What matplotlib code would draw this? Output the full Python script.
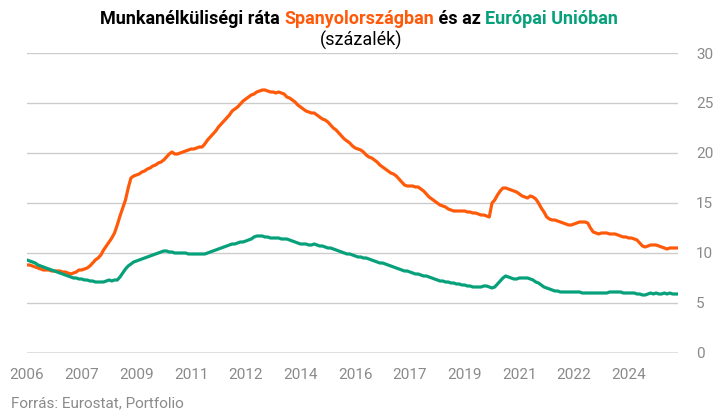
import numpy as np
import matplotlib
matplotlib.use("Agg")
import matplotlib.pyplot as plt

# havi adatok 2006-01 .. 2025-11
spain = [
    8.8, 8.8, 8.7, 8.6, 8.5, 8.4, 8.3, 8.3, 8.3, 8.2, 8.2, 8.2,
    8.2, 8.1, 8.1, 8.0, 7.9, 8.0, 8.1, 8.3, 8.3, 8.4, 8.5, 8.7,
    9.0, 9.3, 9.5, 9.8, 10.3, 10.7, 11.1, 11.5, 12.0, 12.8, 13.7, 14.5,
    15.3, 16.5, 17.5, 17.7, 17.8, 17.9, 18.1, 18.2, 18.4, 18.5, 18.7, 18.8,
    19.0, 19.1, 19.3, 19.6, 19.9, 20.1, 19.9, 19.9, 20.0, 20.1, 20.2, 20.3,
    20.4, 20.4, 20.5, 20.6, 20.6, 20.9, 21.3, 21.6, 21.9, 22.2, 22.6, 22.9,
    23.2, 23.5, 23.8, 24.2, 24.4, 24.6, 24.9, 25.2, 25.4, 25.6, 25.8, 25.9,
    26.1, 26.2, 26.3, 26.3, 26.2, 26.1, 26.1, 26.0, 26.1, 26.0, 25.9, 25.6,
    25.5, 25.3, 25.1, 24.8, 24.6, 24.4, 24.2, 24.1, 24.0, 24.0, 23.8, 23.6,
    23.4, 23.3, 23.1, 22.8, 22.5, 22.3, 22.0, 21.7, 21.4, 21.2, 21.0, 20.7,
    20.5, 20.4, 20.3, 20.1, 19.8, 19.6, 19.5, 19.3, 19.1, 18.8, 18.6, 18.4,
    18.2, 18.0, 17.9, 17.7, 17.4, 17.1, 16.8, 16.7, 16.7, 16.7, 16.6, 16.6,
    16.4, 16.2, 15.9, 15.6, 15.4, 15.2, 15.0, 14.8, 14.7, 14.6, 14.4, 14.3,
    14.2, 14.2, 14.2, 14.2, 14.2, 14.1, 14.1, 14.0, 14.0, 13.9, 13.8, 13.8,
    13.7, 13.6, 15.0, 15.3, 15.8, 16.2, 16.5, 16.5, 16.4, 16.3, 16.2, 16.1,
    15.9, 15.7, 15.6, 15.5, 15.7, 15.6, 15.4, 15.0, 14.5, 14.1, 13.6, 13.4,
    13.3, 13.3, 13.2, 13.1, 13.0, 12.9, 12.8, 12.8, 12.9, 13.0, 13.1, 13.1,
    13.1, 13.0, 12.5, 12.1, 12.0, 11.9, 12.0, 12.0, 12.0, 11.9, 11.9, 11.9,
    11.8, 11.7, 11.6, 11.6, 11.5, 11.5, 11.4, 11.3, 11.0, 10.7, 10.6, 10.7,
    10.8, 10.8, 10.8, 10.7, 10.6, 10.5, 10.4, 10.5, 10.5, 10.5, 10.5,
]
eu = [
    9.3, 9.2, 9.1, 9.0, 8.8, 8.7, 8.6, 8.5, 8.4, 8.3, 8.2, 8.1,
    8.0, 7.9, 7.8, 7.7, 7.6, 7.5, 7.5, 7.4, 7.4, 7.3, 7.3, 7.2,
    7.2, 7.1, 7.1, 7.1, 7.1, 7.2, 7.3, 7.2, 7.3, 7.3, 7.6, 8.0,
    8.4, 8.7, 8.9, 9.1, 9.2, 9.3, 9.4, 9.5, 9.6, 9.7, 9.8, 9.9,
    10.0, 10.1, 10.2, 10.2, 10.1, 10.1, 10.0, 10.0, 10.0, 10.0, 10.0, 9.9,
    9.9, 9.9, 9.9, 9.9, 9.9, 9.9, 10.0, 10.1, 10.2, 10.3, 10.4, 10.5,
    10.6, 10.7, 10.8, 10.9, 10.9, 11.0, 11.1, 11.1, 11.2, 11.3, 11.4, 11.6,
    11.7, 11.7, 11.7, 11.6, 11.6, 11.5, 11.5, 11.5, 11.5, 11.4, 11.4, 11.4,
    11.3, 11.2, 11.1, 11.0, 10.9, 10.9, 10.9, 10.8, 10.8, 10.9, 10.8, 10.7,
    10.7, 10.6, 10.5, 10.5, 10.4, 10.3, 10.2, 10.1, 10.0, 9.9, 9.9, 9.8,
    9.7, 9.6, 9.6, 9.5, 9.5, 9.4, 9.3, 9.2, 9.1, 9.0, 9.0, 8.9,
    8.8, 8.7, 8.6, 8.5, 8.4, 8.3, 8.2, 8.2, 8.1, 8.0, 7.9, 7.9,
    7.8, 7.7, 7.7, 7.6, 7.5, 7.4, 7.3, 7.2, 7.2, 7.1, 7.1, 7.0,
    7.0, 6.9, 6.9, 6.8, 6.8, 6.7, 6.7, 6.6, 6.6, 6.6, 6.6, 6.7,
    6.7, 6.6, 6.5, 6.6, 6.9, 7.2, 7.5, 7.7, 7.6, 7.5, 7.4, 7.4,
    7.5, 7.5, 7.5, 7.5, 7.4, 7.3, 7.1, 7.0, 6.8, 6.6, 6.5, 6.4,
    6.3, 6.2, 6.2, 6.1, 6.1, 6.1, 6.1, 6.1, 6.1, 6.1, 6.1, 6.0,
    6.0, 6.0, 6.0, 6.0, 6.0, 6.0, 6.0, 6.0, 6.0, 6.1, 6.1, 6.1,
    6.1, 6.1, 6.0, 6.0, 6.0, 6.0, 6.0, 5.9, 5.9, 5.8, 5.8, 5.9,
    6.0, 5.9, 6.0, 5.9, 5.9, 6.0, 5.9, 6.0, 5.9, 5.9, 5.9,
]
tick_labels = ["2006", "2007", "2009", "2011", "2012", "2014",
               "2016", "2017", "2019", "2021", "2022", "2024"]
yticks = [0, 5, 10, 15, 20, 25, 30]

ORANGE = "#ff5a0a"
GREEN = "#06a07a"
GREY = "#8a8a8a"

plt.rcParams["font.family"] = ["Roboto", "DejaVu Sans"]

fig = plt.figure(figsize=(7.18, 4.17), dpi=100)
ax = fig.add_axes([0.0376, 0.1535, 0.9067, 0.7194])

x = np.arange(len(spain))
ax.plot(x, spain, color=ORANGE, lw=2.3, solid_joinstyle="round", zorder=3)
ax.plot(x, eu, color=GREEN, lw=2.3, solid_joinstyle="round", zorder=3)

ax.set_xlim(0, len(spain) - 1)
ax.set_ylim(0, 30)
ax.set_yticks(yticks)
ax.yaxis.tick_right()
ax.tick_params(axis="y", length=0, pad=13, labelsize=11, labelcolor=GREY)
ax.set_xticks(np.arange(len(tick_labels)) * 20)
ax.set_xticklabels(tick_labels)
ax.tick_params(axis="x", length=0, pad=11, labelsize=11, labelcolor=GREY)
ax.grid(axis="y", color="#cccccc", lw=1)
ax.axhline(0, color=GREY, lw=1, zorder=2)
for s in ax.spines.values():
    s.set_visible(False)

# cim, tobb szinnel
parts = [("Munkanélküliségi ráta ", "black"), ("Spanyolországban", ORANGE),
         (" és az ", "black"), ("Európai Unióban", GREEN)]
r = fig.canvas.get_renderer()
texts = []
for s, c in parts:
    t = fig.text(0, 0.955, s, color=c, fontsize=13, fontweight="bold",
                 ha="left", va="center")
    texts.append(t)
widths = [t.get_window_extent(r).width for t in texts]
total = sum(widths)
x0 = (718 - total) / 2
for t, w in zip(texts, widths):
    t.set_x(x0 / 718)
    x0 += w
fig.text(0.503, 0.903, "(százalék)", ha="center", va="center", fontsize=13)

fig.text(0.015, 0.034, "Forrás: Eurostat, Portfolio", ha="left", va="center",
         fontsize=11, color=GREY)

fig.savefig("out.png", dpi=100)
